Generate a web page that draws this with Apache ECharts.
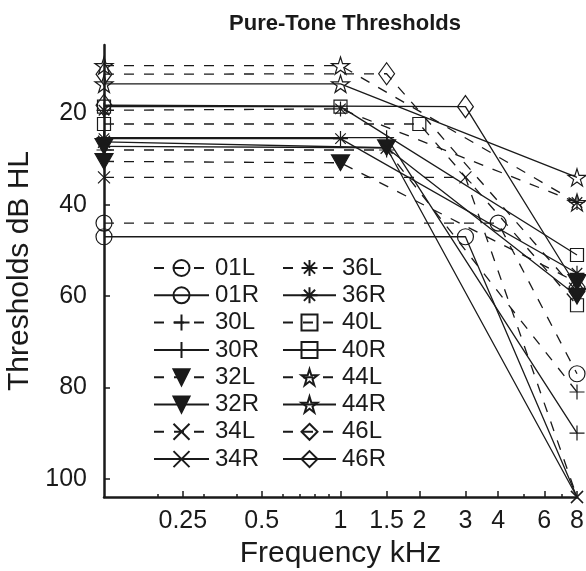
<!DOCTYPE html>
<html><head><meta charset="utf-8">
<script src="https://cdn.jsdelivr.net/npm/echarts@6/dist/echarts.min.js"></script>
<style>html,body{margin:0;padding:0;background:#fff}#c{width:586px;height:571px}</style>
</head><body><div id="c"></div>
<script>
// Frequency (kHz) / threshold (dB HL) pairs per ear
const s01L = [[0.125,44],[4,44],[8,77]];
const s01R = [[0.125,47],[3,47],[8,104]];
const s30L = [[0.125,28],[1.5,28],[8,81]];
const s30R = [[0.125,25.3],[1.5,25.3],[8,90]];
const s32L = [[0.125,30.5],[1,30.8],[8,57]];
const s32R = [[0.125,27.2],[1.5,27.5],[8,60]];
const s34L = [[0.125,34],[3,34],[8,104]];
const s34R = [[0.125,26.2],[1.5,27.5],[8,104]];
const s36L = [[0.125,19.3],[1,19],[8,39.5]];
const s36R = [[0.125,25.5],[1,25.5],[8,55]];
const s40L = [[0.125,22.3],[2,22.3],[8,62]];
const s40R = [[0.125,18.5],[1,18.5],[8,51]];
const s44L = [[0.125,9.5],[1,9.5],[8,39.5]];
const s44R = [[0.125,13.5],[1,13.5],[8,34]];
const s46L = [[0.125,11.4],[1.5,11.3],[8,59]];
const s46R = [[0.125,18.2],[3,18.5],[8,58]];
// ears whose 8 kHz point is a no-response drawn without marker
const noMarkerAt8k = ['01R'];

const xTickLabels = [0.25,0.5,1,1.5,2,3,4,6,8];
const xMinorTicks = [0.2,0.3,0.4,0.6,0.7,0.8,0.9,5,7];
const yTickLabels = [20,40,60,80,100];

const INK = '#1a1a1a';
const SYM = {
  circle: 'circle',
  plus: 'path://M50,0L50,100M0,50L100,50',
  tri: 'path://M0,0L100,0L50,87Z',
  cross: 'path://M0,0L100,100M100,0L0,100',
  aster: 'path://M50,0L50,100M0,50L100,50M15,15L85,85M85,15L15,85',
  square: 'rect',
  star: 'path://M50,0L61,35L98,35L68,57L79,91L50,70L21,91L32,57L2,35L39,35Z',
  diamond: 'path://M50,0L86,50L50,100L14,50Z'
};
const DASH = [10, 10];
function mk(name, data, sym, dashed, filled, size) {
  const s = SYM[sym];
  return {
    name: name, type: 'line', data: data, clip: false,
    symbol: noMarkerAt8k.includes(name) ? (v => v[0] >= 8 ? 'none' : s) : s,
    symbolSize: size || 15, symbolKeepAspect: true,
    lineStyle: {color: INK, width: 1.3, type: dashed ? DASH : 'solid'},
    itemStyle: {color: filled ? INK : 'transparent', borderColor: INK, borderWidth: 1.2},
    emphasis: {disabled: true}, animation: false
  };
}
const series = [
  mk('01L', s01L, 'circle', true, false, 16), mk('01R', s01R, 'circle', false, false, 16),
  mk('30L', s30L, 'plus', true), mk('30R', s30R, 'plus', false),
  mk('32L', s32L, 'tri', true, true, 18), mk('32R', s32R, 'tri', false, true, 18),
  mk('34L', s34L, 'cross', true, false, 12), mk('34R', s34R, 'cross', false, false, 12),
  mk('36L', s36L, 'aster', true), mk('36R', s36R, 'aster', false),
  mk('40L', s40L, 'square', true, false, 13), mk('40R', s40R, 'square', false, false, 13),
  mk('44L', s44L, 'star', true, false, 18), mk('44R', s44R, 'star', false, false, 18),
  mk('46L', s46L, 'diamond', true, false, 22), mk('46R', s46R, 'diamond', false, false, 22)
];
const FONT = 'Liberation Sans';
function legend(names, left, width) {
  return {
    data: names, orient: 'vertical', left: left, top: 256,
    itemWidth: width, itemHeight: 20, itemGap: 3.3,
    textStyle: {fontFamily: FONT, fontSize: 24, color: INK, padding: [0,0,0,1]},
    selectedMode: false, padding: 0
  };
}
const chart = echarts.init(document.getElementById('c'), null, {renderer: 'canvas'});
chart.setOption({
  backgroundColor: '#fff',
  animation: false,
  title: {text: 'Pure-Tone Thresholds', left: 340, top: 8, textAlign: 'center',
    textStyle: {fontFamily: FONT, fontSize: 22, fontWeight: 'bold', color: INK}},
  legend: [
    legend(['01L','01R','30L','30R','32L','32R','34L','34R'], 153, 55),
    legend(['36L','36R','40L','40R','44L','44R','46L','46R'], 282, 53)
  ],
  grid: {left: 104, right: 9, top: 45, bottom: 74, containLabel: false, outerBoundsMode: 'none'},
  xAxis: [{
    type: 'log', logBase: 2, min: 0.125, max: 8,
    name: 'Frequency kHz', nameLocation: 'middle', nameGap: 40,
    nameTextStyle: {fontFamily: FONT, fontSize: 30, color: INK},
    axisLine: {lineStyle: {color: INK, width: 2.5}},
    axisTick: {inside: true, length: 6, lineStyle: {color: INK, width: 1.5}, customValues: xTickLabels},
    axisLabel: {customValues: xTickLabels, fontFamily: FONT, fontSize: 25, color: INK, margin: 12,
      formatter: v => String(+v.toFixed(3))},
    minorTick: {show: false}, splitLine: {show: false}
  }, {
    type: 'log', logBase: 2, min: 0.125, max: 8, position: 'bottom',
    axisLine: {show: false},
    axisTick: {inside: true, length: 3, lineStyle: {color: INK, width: 1.5}, customValues: xMinorTicks},
    axisLabel: {show: false, customValues: xMinorTicks}, splitLine: {show: false}
  }],
  yAxis: {
    type: 'value', inverse: true, min: 5, max: 104,
    name: 'Thresholds dB HL', nameLocation: 'middle', nameGap: 61,
    nameTextStyle: {fontFamily: FONT, fontSize: 30, color: INK},
    axisLine: {show: true, lineStyle: {color: INK, width: 2.5}},
    axisTick: {inside: true, length: 6, lineStyle: {color: INK, width: 1.5}, customValues: yTickLabels},
    axisLabel: {customValues: yTickLabels, fontFamily: FONT, fontSize: 25, color: INK, margin: 17},
    splitLine: {show: false}
  },
  series: series
});
</script></body></html>
